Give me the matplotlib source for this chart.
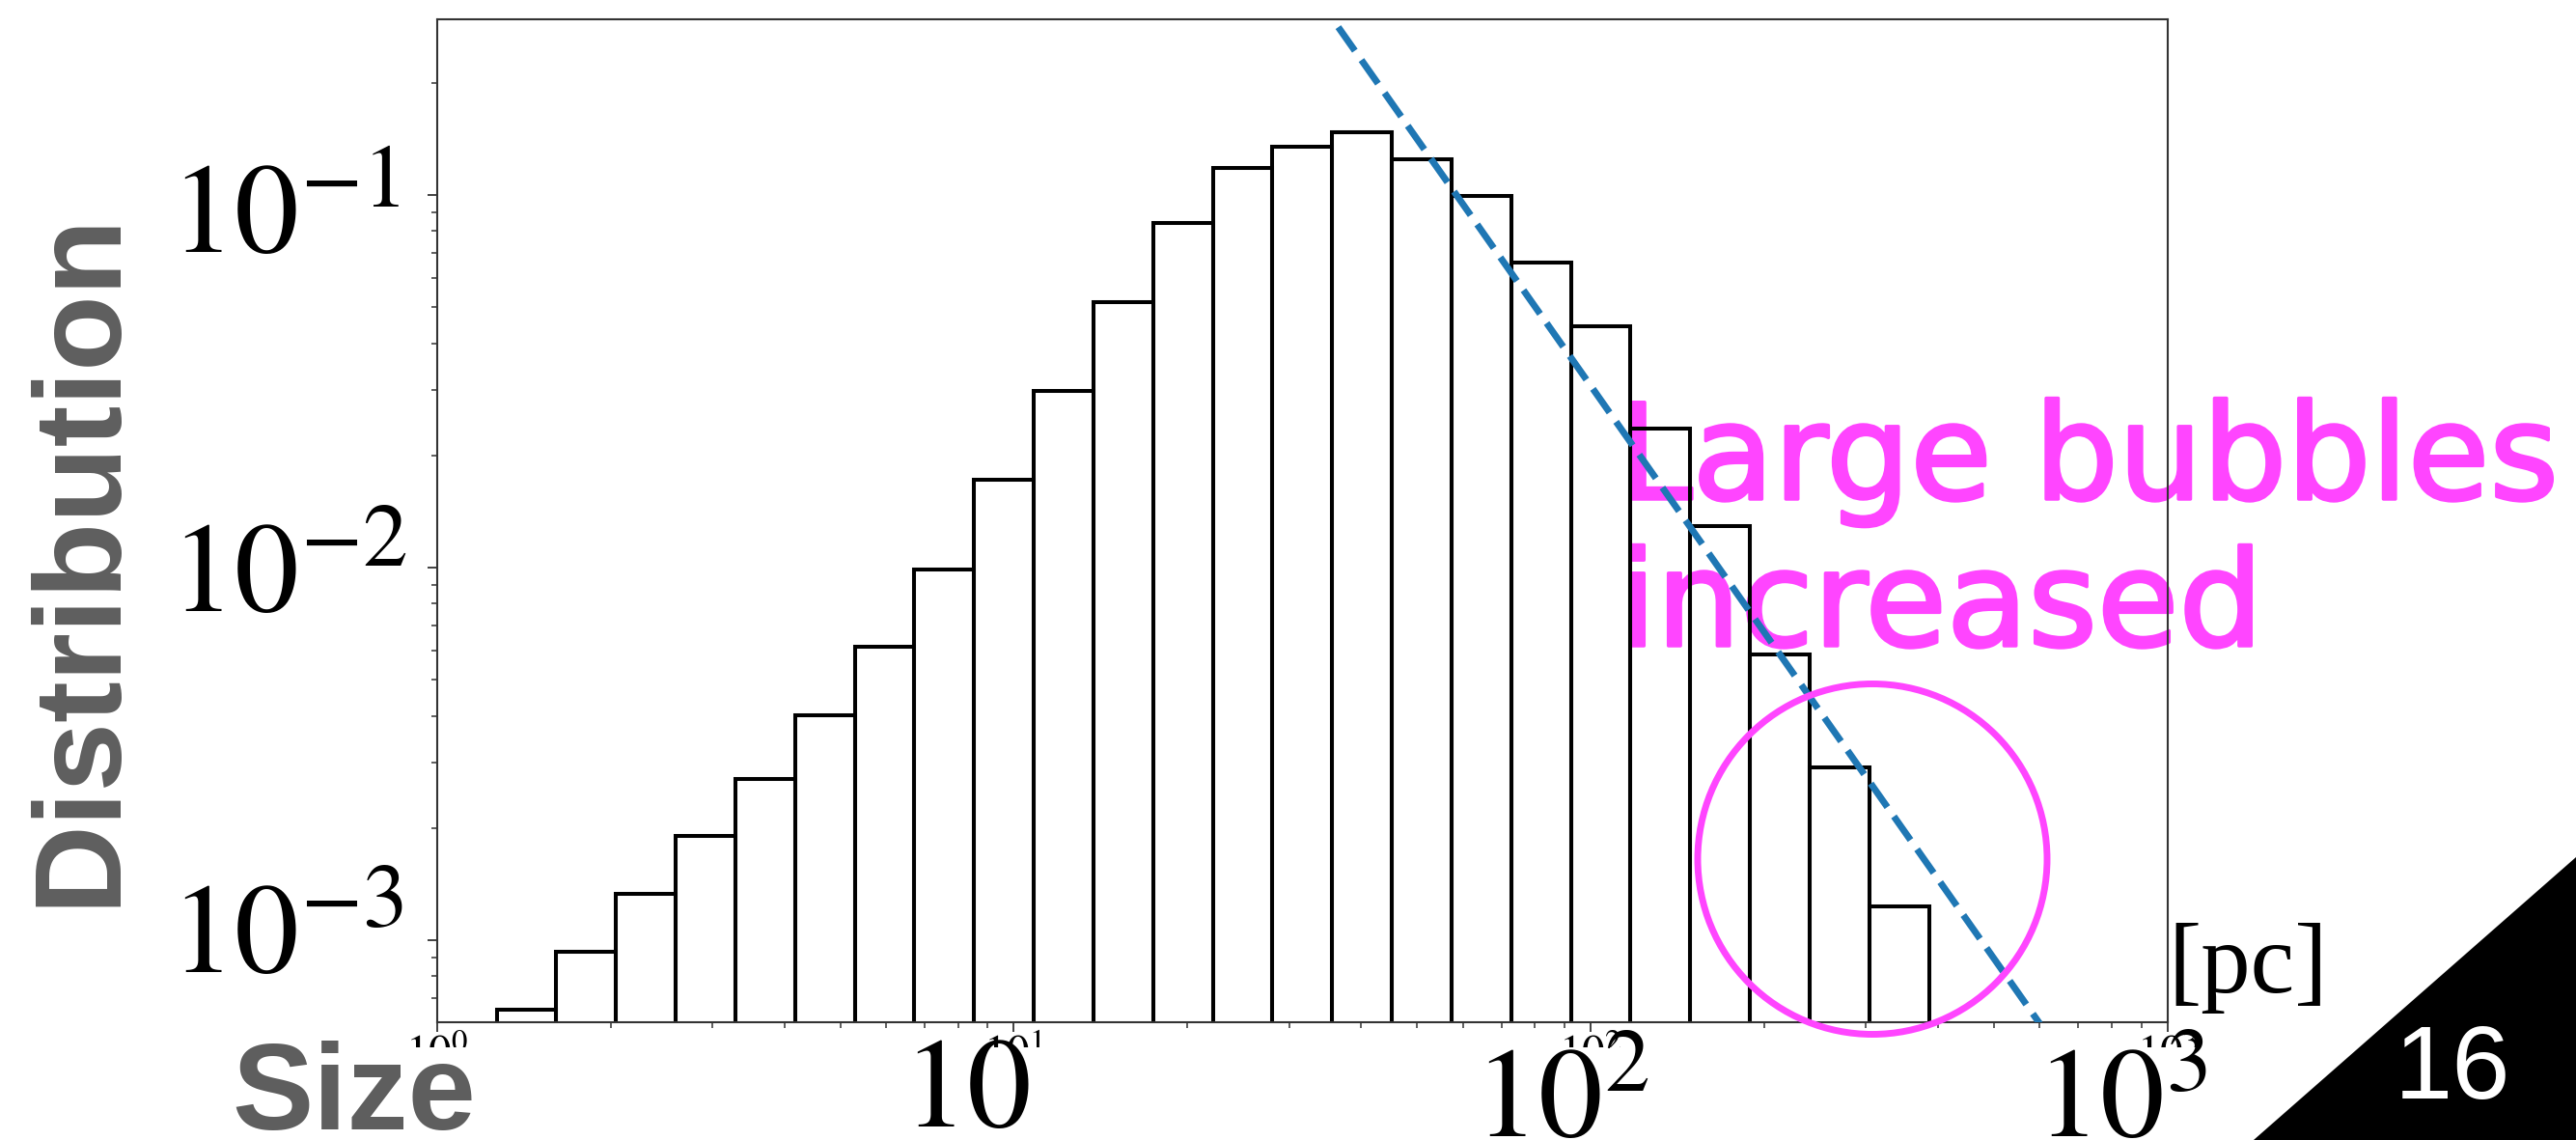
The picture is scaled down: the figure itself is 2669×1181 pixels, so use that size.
import matplotlib
matplotlib.use('Agg')
import matplotlib.pyplot as plt
import matplotlib.patheffects as pe
from matplotlib.patches import Ellipse, Polygon, Rectangle
import numpy as np

W, H = 2669, 1181

# histogram of bubble sizes (log bins, bin edges in pc)
bin_edges = [1.269, 1.610, 2.043, 2.593, 3.291, 4.176, 5.299, 6.724, 8.533,
             10.83, 13.74, 17.43, 22.12, 28.07, 35.63, 45.21, 57.37, 72.81,
             92.39, 117.2, 148.8, 188.8, 239.6, 304.0, 385.8]
dist = [0.00065, 0.00093, 0.00133, 0.0019, 0.00271, 0.00401, 0.00613, 0.0099,
        0.0172, 0.0298, 0.0515, 0.0839, 0.118, 0.135, 0.147, 0.125, 0.0992,
        0.0658, 0.0444, 0.0236, 0.0129, 0.00585, 0.0029, 0.00123]

# power-law guide line
fit_x = [36.5, 600.0]
fit_y = [0.282, 0.000597]

x_ticks = [1, 10, 100, 1000]
x_tick_labels = [r'$10^{0}$', r'$10^{1}$', r'$10^{2}$', r'$10^{3}$']

plt.rcParams['mathtext.fontset'] = 'stix'
plt.rcParams['font.family'] = 'Liberation Sans'


def fx(x):
    return x / W


def fy(y):
    return 1 - y / H


fig = plt.figure(figsize=(W / 100, H / 100), dpi=100)
ax = fig.add_axes([fx(452.7), fy(1059), fx(2246) - fx(452.7), fy(20) - fy(1059)])
ax.patch.set_visible(False)

ax.set_xscale('log')
ax.set_yscale('log')

ax.bar(bin_edges[:-1], dist, width=np.diff(bin_edges), align='edge',
       fill=False, edgecolor='black', linewidth=2.9, zorder=2)
ax.plot(fit_x, fit_y, color='#1f77b4', linewidth=5, linestyle=(0, (4.3, 1.7)), zorder=3)

ax.set_xlim(1, 1000)
ax.set_ylim(6.02e-4, 0.296)

for sp in ax.spines.values():
    sp.set_color('#333333')
    sp.set_linewidth(1.5)

ax.set_xticks(x_ticks, labels=x_tick_labels)
ax.tick_params(axis='both', which='major', length=7, width=1.3, color='#333333')
ax.tick_params(axis='both', which='minor', length=4.5, width=1.1, color='#333333')
ax.tick_params(axis='x', which='major', labelsize=34, pad=2)
ax.tick_params(axis='y', labelleft=False)

# slide overlay: big tick labels, annotations
fig.patches.append(Rectangle((0, 0), 1, fy(1085), transform=fig.transFigure,
                             facecolor='white', edgecolor='none', zorder=1))

for txt, base in [(r'$10^{-1}$', 262), (r'$10^{-2}$', 634), (r'$10^{-3}$', 1007)]:
    fig.text(fx(176), fy(base), txt, fontsize=96, ha='left', va='baseline', zorder=2)

for txt, left, base in [(r'$10$', 935, 1167), (r'$10^{2}$', 1527, 1178), (r'$10^{3}$', 2109, 1177)]:
    fig.text(fx(left), fy(base), txt, fontsize=96, ha='left', va='baseline', zorder=2)

gray = '#5e5e5e'
fig.text(fx(84.5), fy(578.5), 'Distribution', rotation=90, fontsize=92.5,
         weight='bold', color=gray, ha='center', va='center', zorder=2)
fig.text(fx(240), fy(1170), 'Size', fontsize=91, weight='bold', color=gray,
         ha='left', va='baseline', zorder=2)
fig.text(fx(2246), fy(1028), '[pc]', fontsize=74, family='Liberation Serif',
         ha='left', va='baseline', zorder=2)

magenta = '#ff45ff'
thick = [pe.withStroke(linewidth=2.5, foreground=magenta)]
fig.text(fx(1677), fy(517), 'Large bubbles', fontsize=99, family='DejaVu Sans',
         color=magenta, ha='left', va='baseline', zorder=-1, path_effects=thick)
fig.text(fx(1678), fy(669), 'increased', fontsize=99, family='DejaVu Sans',
         color=magenta, ha='left', va='baseline', zorder=-1, path_effects=thick)
fig.patches.append(Ellipse((fx(1940), fy(890)), 362 / W, 363 / H, transform=fig.transFigure,
                           fill=False, edgecolor=magenta, linewidth=5, zorder=5))

# page number corner
fig.patches.append(Polygon([(fx(2335), 0), (1, fy(888)), (1, 0)], closed=True,
                           transform=fig.transFigure, facecolor='black',
                           edgecolor='none', zorder=3))
fig.text(fx(2481), fy(1138), '16', fontsize=78, color='white',
         ha='left', va='baseline', zorder=4)

fig.savefig('out.png', dpi=100)
